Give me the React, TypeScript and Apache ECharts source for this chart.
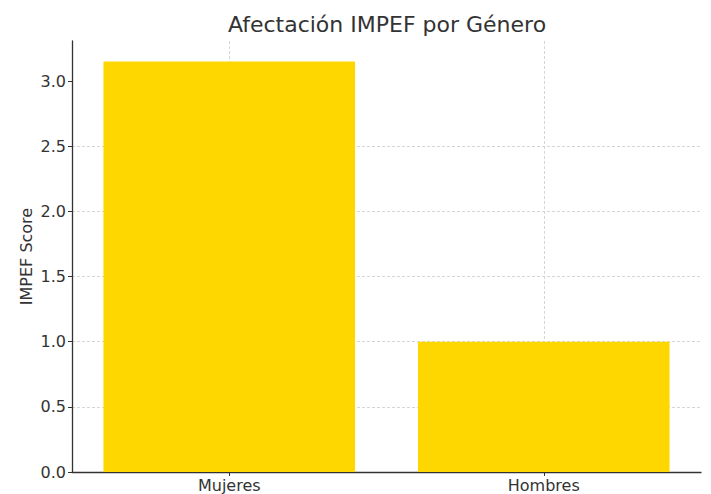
import React, { useEffect, useRef } from "react";
import * as echarts from "echarts";

const categories = ["Mujeres", "Hombres"];
const scores = [3.15, 1.0];
const yTicks = [0, 0.5, 1.0, 1.5, 2.0, 2.5, 3.0];
const titleText = "Afectación IMPEF por Género";
const yName = "IMPEF Score";

export default function App() {
  const ref = useRef<HTMLDivElement>(null);
  useEffect(() => {
    if (!ref.current) return;
    const chart = echarts.init(ref.current, null, { renderer: "svg" });
    const font = "DejaVu Sans";
    chart.setOption({
      animation: false,
      backgroundColor: "#ffffff",
      title: {
        text: titleText,
        left: 382,
        top: 8,
        textAlign: "center",
        textStyle: { fontFamily: font, fontSize: 22, fontWeight: "normal", color: "#333333" },
      },
      grid: { left: 72, right: 10, top: 41, bottom: 22, containLabel: false },
      xAxis: {
        type: "category",
        data: categories,
        boundaryGap: true,
        axisLine: { show: true, lineStyle: { color: "#333333", width: 1.3 } },
        axisTick: { show: true, alignWithLabel: true, length: 4, lineStyle: { color: "#333333" } },
        axisLabel: { fontFamily: font, fontSize: 16, color: "#333333", margin: 5 },
        splitLine: {
          show: true,
          alignWithLabel: true,
          lineStyle: { color: "#cccccc", type: [3, 2], width: 0.8 },
        },
      },
      yAxis: {
        type: "value",
        min: 0,
        max: 3.3075,
        interval: 0.5,
        name: yName,
        nameLocation: "middle",
        nameGap: 38,
        nameMoveOverlap: false,
        nameTextStyle: { fontFamily: font, fontSize: 16, color: "#333333" },
        axisLine: { show: true, lineStyle: { color: "#333333", width: 1.3 } },
        axisTick: { show: true, length: 4, customValues: yTicks, lineStyle: { color: "#333333" } },
        axisLabel: {
          fontFamily: font,
          fontSize: 16,
          color: "#333333",
          margin: 6,
          customValues: yTicks,
          formatter: (v: number) => v.toFixed(1),
        },
        splitLine: {
          show: true,
          showMaxLine: false,
          showMinLine: false,
          lineStyle: { color: "#cccccc", type: [3, 2], width: 0.8 },
        },
      },
      series: [
        {
          type: "bar",
          data: scores,
          barWidth: "80%",
          itemStyle: { color: "#FFD700" },
        },
      ],
    });
    return () => chart.dispose();
  }, []);
  return <div ref={ref} style={{ width: 711, height: 494, position: "absolute", left: 0, top: 0 }} />;
}
